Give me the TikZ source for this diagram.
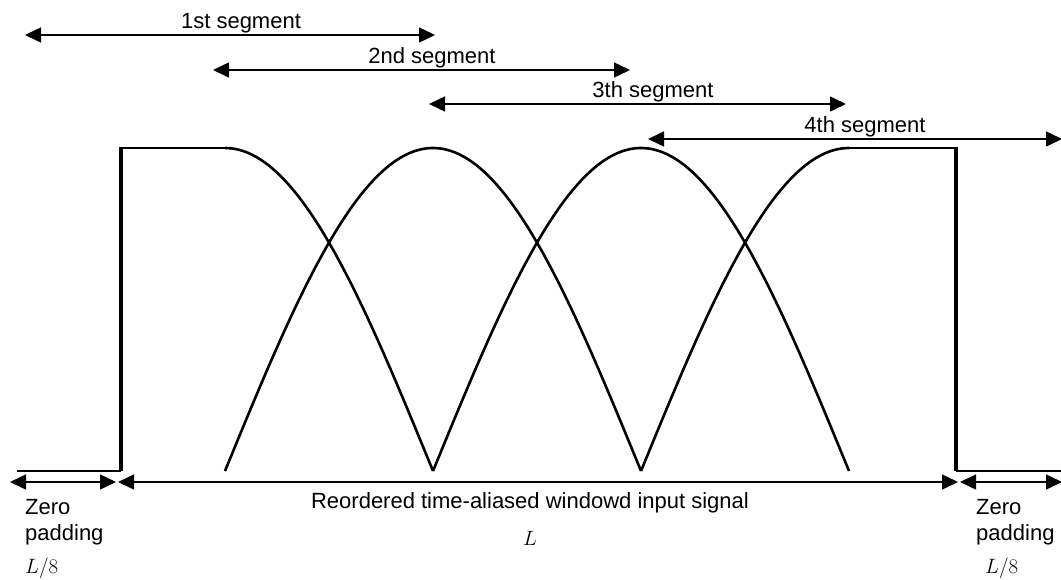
\documentclass[tikz,border=0pt]{standalone}
\usepackage{fontspec}
\setmainfont{Liberation Sans}
\usetikzlibrary{arrows.meta}
\begin{document}
\begin{tikzpicture}[x=1pt,y=-1pt,
  dim/.style={line width=1.5pt,{Triangle[length=16pt,width=15pt]}-{Triangle[length=16pt,width=15pt]}},
  win/.style={line width=2.6pt,line join=round},
  lbl/.style={font=\fontsize{22}{26}\selectfont,inner sep=0pt,anchor=base},
  mlbl/.style={font=\fontsize{22}{26}\selectfont,inner sep=0pt,anchor=base}]
\useasboundingbox (0,0) rectangle (1061,579);
% segment arrows
\coordinate (s1a) at (25,35);  \coordinate (s1b) at (435,35);
\coordinate (s2a) at (213,70); \coordinate (s2b) at (630,70);
\coordinate (s3a) at (429,104); \coordinate (s3b) at (846,104);
\coordinate (s4a) at (648,139); \coordinate (s4b) at (1062,139);
\draw[dim] (s1a) -- (s1b);
\draw[dim] (s2a) -- (s2b);
\draw[dim] (s3a) -- (s3b);
\draw[dim] (s4a) -- (s4b);
\node[lbl] (t1) at (241,28) {1st segment};
\node[lbl] (t2) at (432,63) {2nd segment};
\node[lbl] (t3) at (653,97) {3th segment};
\node[lbl] (t4) at (865,132) {4th segment};
% windows
\draw[line width=1.8pt] (17,471) -- (121,471);
\draw[line width=3.2pt] (121,471) -- (121,147);
\draw[line width=1.8pt] (120,148) -- (225,148);
\draw[win] plot[domain=225:433,samples=80] (\x,{471-323*cos((\x-225)/208*90)});
\draw[win] plot[domain=225:641,samples=120] (\x,{471-323*sin((\x-225)/416*180)});
\draw[win] plot[domain=433:849,samples=120] (\x,{471-323*sin((\x-433)/416*180)});
\draw[win] plot[domain=641:849,samples=80] (\x,{471-323*sin((\x-641)/208*90)});
\draw[line width=1.8pt] (849,148) -- (956,148);
\draw[line width=3.2pt] (956,147) -- (956,471);
\draw[line width=1.8pt] (956,471) -- (1061,471);
% bottom dimension arrows
\coordinate (b1a) at (10,482); \coordinate (b1b) at (116,482);
\coordinate (b2a) at (118,482); \coordinate (b2b) at (958,482);
\coordinate (b3a) at (960,482); \coordinate (b3b) at (1062,482);
\draw[dim] (b1a) -- (b1b);
\draw[dim] (b2a) -- (b2b);
\draw[dim] (b3a) -- (b3b);
% labels
\node[lbl] (main) at (530,508) {Reordered time-aliased windowd input signal};
\node[mlbl] (L) at (530,545) {$L$};
\node[lbl,anchor=base west] (z1) at (25,514) {Zero};
\node[lbl,anchor=base west] (p1) at (25,540) {padding};
\node[mlbl,anchor=base west] (l1) at (25,573) {$L/8$};
\node[lbl,anchor=base west] (z2) at (976,514) {Zero};
\node[lbl,anchor=base west] (p2) at (976,540) {padding};
\node[mlbl,anchor=base west] (l2) at (985,573) {$L/8$};
\end{tikzpicture}
\end{document}
